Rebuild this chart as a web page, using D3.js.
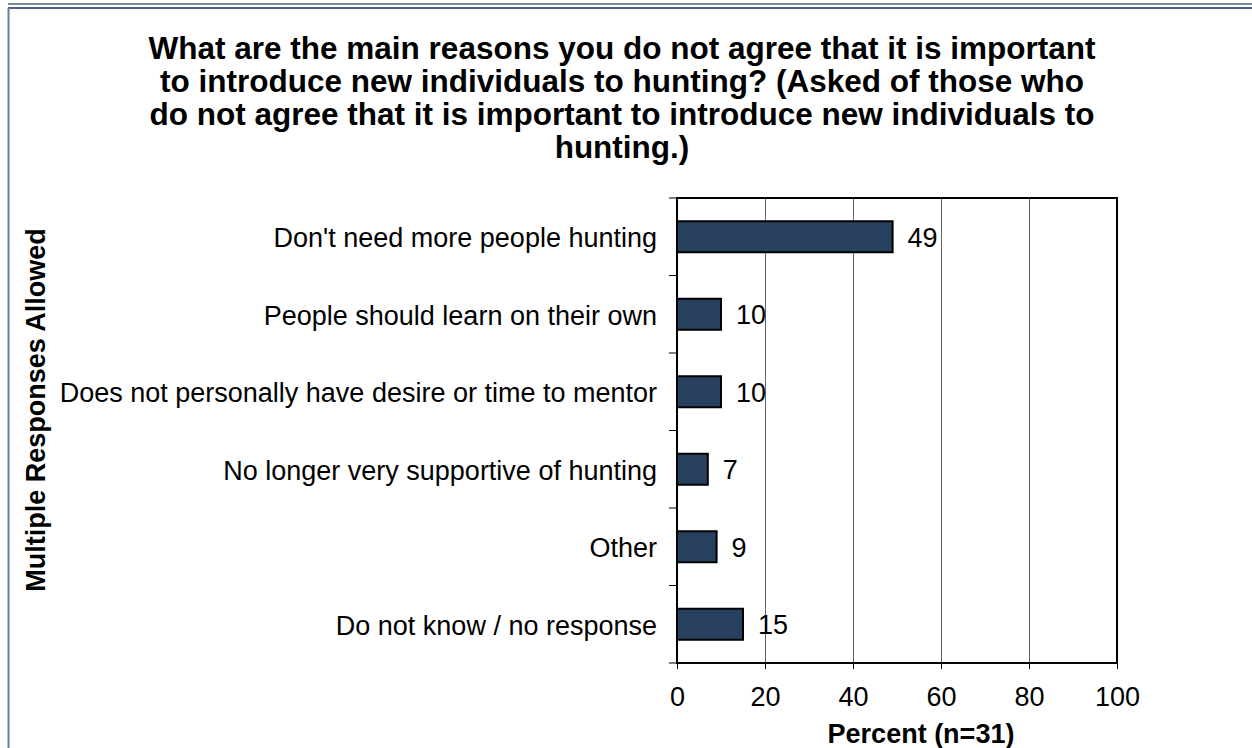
<!DOCTYPE html>
<html><head><meta charset="utf-8">
<script src="https://cdn.jsdelivr.net/npm/d3@7"></script>
<style>body{margin:0;background:#fff}svg{display:block}text{font-family:"Liberation Sans",Arial,sans-serif}</style>
</head><body>
<script>
const categories = ["Don't need more people hunting","People should learn on their own","Does not personally have desire or time to mentor","No longer very supportive of hunting","Other","Do not know / no response"];
const values = [49,10,10,7,9,15];
const xTicks = [0,20,40,60,80,100];
const titleLines = ["What are the main reasons you do not agree that it is important","to introduce new individuals to hunting? (Asked of those who","do not agree that it is important to introduce new individuals to","hunting.)"];
const yTitle = "Multiple Responses Allowed";
const xTitle = "Percent (n=31)";

const W=1252,H=748;
const svg=d3.select("body").append("svg").attr("width",W).attr("height",H);
// frame
svg.append("line").attr("x1",8).attr("x2",W).attr("y1",4).attr("y2",4).attr("stroke","#7b8aa3").attr("stroke-width",2);
svg.append("line").attr("x1",8).attr("x2",W).attr("y1",8).attr("y2",8).attr("stroke","#4d6389").attr("stroke-width",2);
svg.append("line").attr("x1",8.5).attr("x2",8.5).attr("y1",8).attr("y2",H).attr("stroke","#6a7d9c").attr("stroke-width",2);

const L=677,R=1117,T=198,B=663;
const FS=27;
const x=d3.scaleLinear().domain([0,100]).range([L,R]);
const y=d3.scaleBand().domain(categories).range([T,B]).paddingInner(0.6).paddingOuter(0.3);
const yb=d3.scaleBand().domain(categories).range([T,B]);

// title
svg.append("text").attr("x",622).attr("y",59).attr("text-anchor","middle").attr("font-weight","bold").attr("font-size",31.5)
  .selectAll("tspan").data(titleLines).join("tspan").attr("x",622).attr("dy",(d,i)=>i?33:0).text(d=>d);

// grid
svg.append("g").selectAll("line").data(xTicks.slice(1,-1)).join("line")
  .attr("x1",d=>x(d)+0.5).attr("x2",d=>x(d)+0.5).attr("y1",T).attr("y2",B).attr("stroke","#666").attr("stroke-width",1);

// bars
svg.append("g").selectAll("rect").data(values).join("rect")
  .attr("x",x(0)).attr("y",(d,i)=>y(categories[i])).attr("width",d=>x(d)-x(0)).attr("height",y.bandwidth())
  .attr("fill","#27405f").attr("stroke","#000").attr("stroke-width",2);

// value labels
svg.append("g").selectAll("text").data(values).join("text")
  .attr("x",d=>x(d)+15).attr("y",(d,i)=>y(categories[i])+y.bandwidth()/2).attr("dy","0.37em")
  .attr("font-size",FS).attr("fill","#000").text(d=>d);

// plot border
svg.append("rect").attr("x",L).attr("y",T).attr("width",R-L).attr("height",B-T).attr("fill","none").attr("stroke","#000").attr("stroke-width",2);

// y ticks at band boundaries
const bounds=categories.map(c=>yb(c)).concat([B]);
svg.append("g").selectAll("line").data(bounds).join("line")
  .attr("x1",L-8).attr("x2",L).attr("y1",d=>d).attr("y2",d=>d).attr("stroke","#000").attr("stroke-width",1);

// category labels
svg.append("g").selectAll("text").data(categories).join("text")
  .attr("x",L-20).attr("y",d=>yb(d)+yb.bandwidth()/2).attr("dy","0.38em").attr("text-anchor","end")
  .attr("font-size",FS).attr("fill","#000").text(d=>d);

// x axis
const xa=svg.append("g").attr("transform",`translate(0,${B})`).call(d3.axisBottom(x).tickValues(xTicks).tickSize(6).tickPadding(18));
xa.select(".domain").remove();
xa.selectAll("line").attr("stroke","#000");
xa.selectAll("text").attr("font-size",FS).attr("fill","#000").attr("font-family","'Liberation Sans',Arial,sans-serif");

svg.append("text").attr("x",921).attr("y",743).attr("text-anchor","middle").attr("font-weight","bold").attr("font-size",FS).text(xTitle);
svg.append("text").attr("transform","translate(45,410) rotate(-90)").attr("text-anchor","middle").attr("font-weight","bold").attr("font-size",FS).text(yTitle);
</script>
</body></html>
